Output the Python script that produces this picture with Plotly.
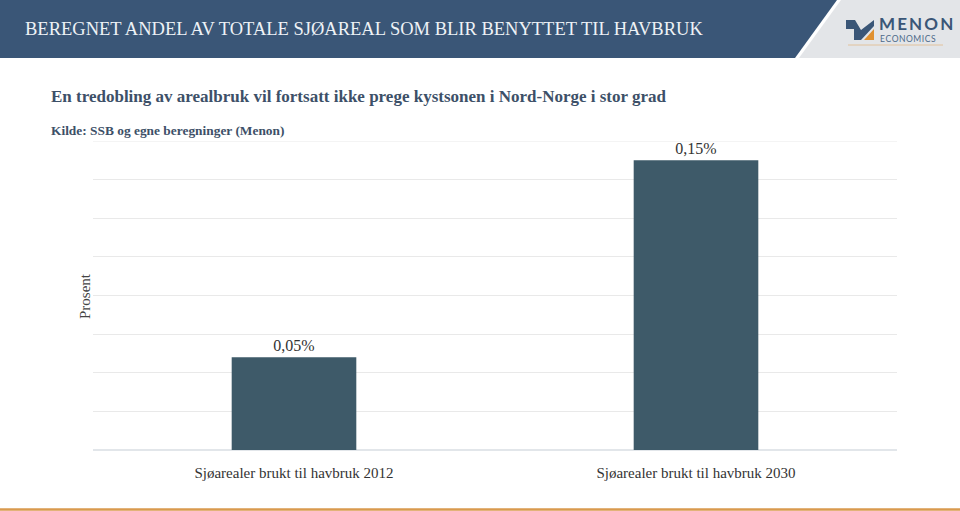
import plotly.graph_objects as go

categories = ["Sjøarealer brukt til havbruk 2012", "Sjøarealer brukt til havbruk 2030"]
values = [0.048, 0.15]
value_labels = ["0,05%", "0,15%"]
y_max = 0.16

header_text = "BEREGNET ANDEL AV TOTALE SJØAREAL SOM BLIR BENYTTET TIL HAVBRUK"
title_text = "En tredobling av arealbruk vil fortsatt ikke prege kystsonen i Nord-Norge i stor grad"
source_text = "Kilde: SSB og egne beregninger (Menon)"
y_title = "Prosent"

W, H = 960, 511
L, R, T, B = 93, 63, 141, 61
PW, PH = W - L - R, H - T - B

def px(x):
    return (x - L) / PW

def py(y):
    return (H - B - y) / PH

SERIF = "Liberation Serif"
BLUE = "#3a5677"
BAR = "#3e5a69"
TITLE_C = "#3d5068"
GRID = "#e9e9e9"

fig = go.Figure()
fig.add_trace(go.Bar(
    x=categories, y=values, text=value_labels, textposition="outside",
    textfont=dict(family=SERIF, size=16, color="#333333"),
    marker=dict(color=BAR, line=dict(width=0)),
    width=0.31, cliponaxis=False, hoverinfo="skip",
))

shapes = []
# top gridline at axis maximum
shapes.append(dict(type="line", xref="paper", yref="y", x0=0, x1=1, y0=y_max, y1=y_max,
                   line=dict(color=GRID, width=1), layer="below"))
# header blue band
shapes.append(dict(type="path", xref="paper", yref="paper",
                   path=f"M {px(0)},{py(0)} L {px(837)},{py(0)} L {px(795)},{py(58)} L {px(0)},{py(58)} Z",
                   fillcolor=BLUE, line=dict(width=0), layer="above"))
# header gray area
shapes.append(dict(type="path", xref="paper", yref="paper",
                   path=f"M {px(841)},{py(0)} L {px(960)},{py(0)} L {px(960)},{py(58)} L {px(799)},{py(58)} Z",
                   fillcolor="#e3e5e8", line=dict(width=0), layer="above"))
# logo blue M part
shapes.append(dict(type="path", xref="paper", yref="paper",
                   path=(f"M {px(846)},{py(20)} L {px(855)},{py(20)} L {px(861)},{py(30)} L {px(874)},{py(20)} "
                         f"L {px(874)},{py(26)} L {px(861)},{py(40)} L {px(854)},{py(40)} L {px(854)},{py(29)} "
                         f"L {px(846)},{py(29)} Z"),
                   fillcolor=BLUE, line=dict(width=0), layer="above"))
# logo orange triangle
shapes.append(dict(type="path", xref="paper", yref="paper",
                   path=f"M {px(874)},{py(29)} L {px(874)},{py(40)} L {px(864)},{py(40)} Z",
                   fillcolor="#e0902f", line=dict(width=0), layer="above"))
# logo underline
shapes.append(dict(type="line", xref="paper", yref="paper",
                   x0=px(848), x1=px(943), y0=py(45), y1=py(45),
                   line=dict(color="#e2c29c", width=1), layer="above"))
# bottom orange line
shapes.append(dict(type="line", xref="paper", yref="paper",
                   x0=px(0), x1=px(960), y0=py(509.5), y1=py(509.5),
                   line=dict(color="#d99a4e", width=2.5), layer="above"))

annotations = [
    dict(text=header_text, xref="paper", yref="paper", x=px(23), y=py(29),
         xanchor="left", yanchor="middle", showarrow=False,
         font=dict(family=SERIF, size=18.5, color="#eef2f6")),
    dict(text="M\u2009E\u2009N\u2009O\u2009N", xref="paper", yref="paper", x=px(877), y=py(24),
         xanchor="left", yanchor="middle", showarrow=False,
         font=dict(family="Lato", size=17, color=BLUE, weight="bold")),
    dict(text="E\u200aC\u200aO\u200aN\u200aO\u200aM\u200aI\u200aC\u200aS", xref="paper", yref="paper",
         x=px(878), y=py(38.5), xanchor="left", yanchor="middle", showarrow=False,
         font=dict(family="Lato", size=8.5, color="#4d6a88")),
    dict(text=f"<b>{title_text}</b>", xref="paper", yref="paper", x=px(49), y=py(97),
         xanchor="left", yanchor="middle", showarrow=False,
         font=dict(family=SERIF, size=17, color=TITLE_C)),
    dict(text=f"<b>{source_text}</b>", xref="paper", yref="paper", x=px(49), y=py(130),
         xanchor="left", yanchor="middle", showarrow=False,
         font=dict(family=SERIF, size=13.4, color=TITLE_C)),
    dict(text=y_title, xref="paper", yref="paper", x=px(85), y=py(296), textangle=-90,
         xanchor="center", yanchor="middle", showarrow=False,
         font=dict(family=SERIF, size=15, color="#444444")),
]

fig.update_layout(
    width=W, height=H,
    margin=dict(l=L, r=R, t=T, b=B, pad=0),
    paper_bgcolor="white", plot_bgcolor="white",
    showlegend=False, bargap=0.69,
    shapes=shapes, annotations=annotations,
    xaxis=dict(showgrid=False, showline=False, ticks="", zeroline=False,
               tickfont=dict(family=SERIF, size=15, color="#333333"), ticklabelstandoff=12),
    yaxis=dict(range=[0, y_max], dtick=0.02, showticklabels=False, gridcolor=GRID,
               gridwidth=1, zeroline=True, zerolinecolor="#e2e6ea", zerolinewidth=1.5,
               showline=False),
)

fig.write_html("out.html")
